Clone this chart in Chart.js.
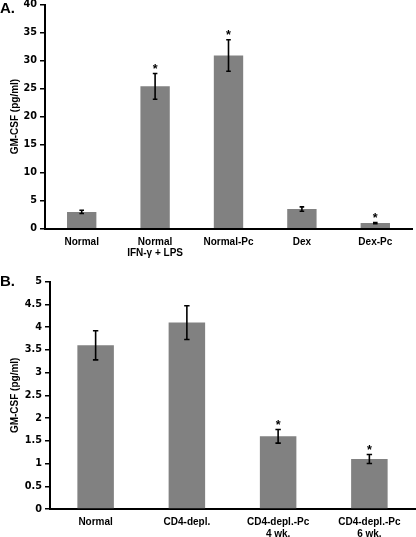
<!DOCTYPE html>
<html>
<head>
<meta charset="utf-8">
<script src="https://cdn.jsdelivr.net/npm/chart.js@4.4.1/dist/chart.umd.min.js"></script>
<style>
  html, body { margin:0; padding:0; background:#fff; }
  body { width:416px; height:537px; position:relative; overflow:hidden; }
  .wrap { position:absolute; left:0; width:416px; }
  .panel { position:absolute; left:0; font-family:"Liberation Sans", Arial, sans-serif; font-weight:bold; font-size:15px; color:#000; line-height:1; }
</style>
</head>
<body>
<div class="wrap" id="wa" style="top:-10px;height:280px;"><canvas id="ca"></canvas></div>
<div class="wrap" id="wb" style="top:270px;height:267px;"><canvas id="cb"></canvas></div>
<div class="panel" style="top:0px;left:0px;">A.</div>
<div class="panel" style="top:273px;left:0px;">B.</div>
<script>
// ---- Data ----
const categoriesA = [["Normal"], ["Normal", "IFN-\u03b3 + LPS"], ["Normal-Pc"], ["Dex"], ["Dex-Pc"]];
const valuesA = [3.0, 25.4, 30.9, 3.5, 1.0];
const errorsA = [0.3, 2.3, 2.8, 0.4, 0.1];
const signifA = [false, true, true, false, true];
const yTicksA = [0, 5, 10, 15, 20, 25, 30, 35, 40];

const categoriesB = [["Normal"], ["CD4-depl."], ["CD4-depl.-Pc", "4 wk."], ["CD4-depl.-Pc", "6 wk."]];
const valuesB = [3.6, 4.1, 1.6, 1.1];
const errorsB = [0.32, 0.37, 0.15, 0.1];
const signifB = [false, false, true, true];
const yTicksB = [0, 0.5, 1, 1.5, 2, 2.5, 3, 3.5, 4, 4.5, 5];

const yTitle = "GM-CSF (pg/ml)";

Chart.defaults.color = '#000';
Chart.defaults.animation = false;

const errorBarPlugin = {
  id: 'errbars',
  afterDatasetsDraw(chart, args, opts) {
    const ctx = chart.ctx;
    const meta = chart.getDatasetMeta(0);
    const ys = chart.scales.y;
    ctx.save();
    meta.data.forEach((bar, i) => {
      const v = opts.values[i], e = opts.errors[i];
      const x = bar.x;
      const yt = ys.getPixelForValue(v + e);
      const yb = ys.getPixelForValue(v - e);
      ctx.strokeStyle = '#000';
      ctx.lineWidth = 1.6;
      ctx.beginPath();
      ctx.moveTo(x, yt); ctx.lineTo(x, yb);
      ctx.moveTo(x - opts.cap, yt); ctx.lineTo(x + opts.cap, yt);
      ctx.moveTo(x - opts.cap, yb); ctx.lineTo(x + opts.cap, yb);
      ctx.stroke();
      if (opts.signif[i]) {
        ctx.fillStyle = '#000';
        ctx.font = 'bold 12.5px "Liberation Sans", Arial, sans-serif';
        ctx.textAlign = 'center';
        ctx.textBaseline = 'alphabetic';
        ctx.fillText('*', x, yt - 0.5);
      }
    });
    ctx.restore();
  }
};

function makeChart(id, cats, vals, errs, sig, ticks, maxV, padTop, padRight, xHeight, yWidth, cap) {
  return new Chart(document.getElementById(id), {
    type: 'bar',
    data: {
      labels: cats,
      datasets: [{
        data: vals,
        backgroundColor: '#818181',
        borderWidth: 0,
        categoryPercentage: 0.8,
        barPercentage: 0.5
      }]
    },
    options: {
      responsive: true,
      maintainAspectRatio: false,
      layout: { padding: { top: padTop, right: padRight, bottom: 0, left: 0 } },
      plugins: {
        legend: { display: false },
        tooltip: { enabled: false },
        errbars: { values: vals, errors: errs, signif: sig, cap: cap }
      },
      scales: {
        x: {
          grid: { display: false, drawTicks: false },
          border: { display: true, color: '#000', width: 2 },
          ticks: {
            padding: 8,
            maxRotation: 0,
            autoSkip: false,
            font: { family: '"Liberation Sans", Arial, sans-serif', weight: 'bold', size: 10, lineHeight: 1.12 },
            color: '#000'
          },
          afterFit(s) { s.height = xHeight; }
        },
        y: {
          min: 0, max: maxV,
          afterBuildTicks(s) { s.ticks = ticks.map(v => ({ value: v })); },
          grid: { drawOnChartArea: false, drawTicks: true, tickLength: 5, color: '#000', lineWidth: 1.5 },
          border: { display: true, color: '#000', width: 2 },
          ticks: {
            padding: 3,
            callback: v => String(v),
            font: { family: '"DejaVu Sans", Verdana, sans-serif', weight: 'bold', size: 9.7 },
            color: '#000'
          },
          title: {
            display: true,
            text: yTitle,
            padding: { top: 9, bottom: 0 },
            font: { family: '"Liberation Sans", Arial, sans-serif', weight: 'bold', size: 10 },
            color: '#000'
          },
          afterFit(s) { s.width = yWidth; }
        }
      }
    },
    plugins: [errorBarPlugin]
  });
}

makeChart('ca', categoriesA, valuesA, errorsA, signifA, yTicksA, 40, 14.5, 4, 41.3, 45, 2.3);
makeChart('cb', categoriesB, valuesB, errorsB, signifB, yTicksB, 5, 11.7, 1, 28, 50, 2.7);
</script>
</body>
</html>
